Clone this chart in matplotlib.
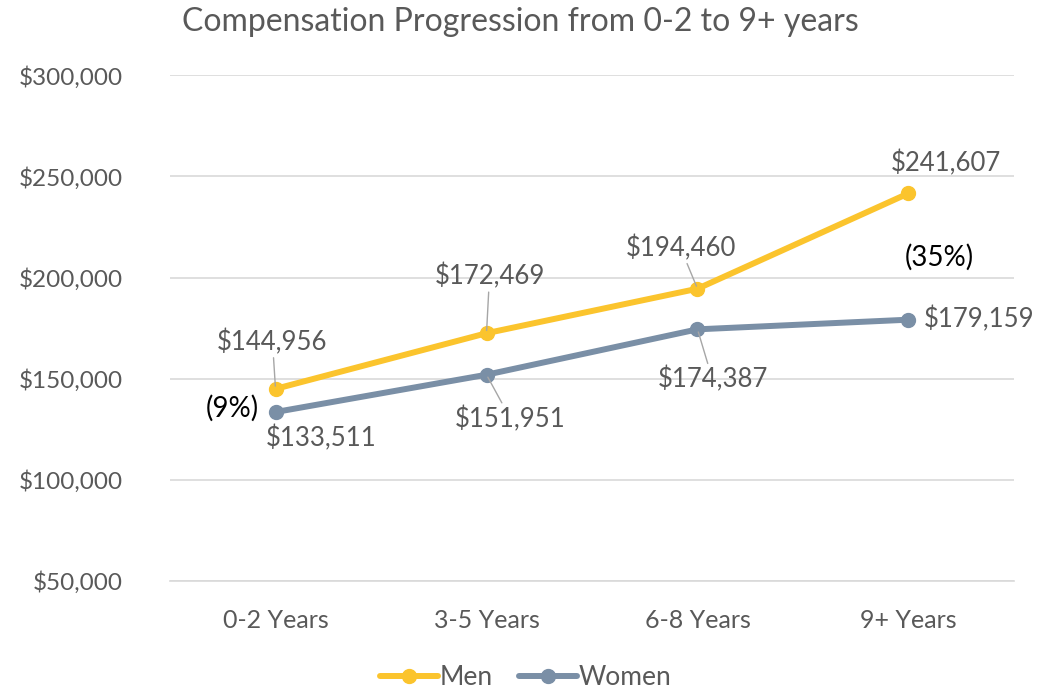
import matplotlib
matplotlib.use('Agg')
import matplotlib.pyplot as plt
from matplotlib.ticker import FuncFormatter

plt.rcParams['font.family'] = ['Lato', 'DejaVu Sans']

categories = ['0-2 Years', '3-5 Years', '6-8 Years', '9+ Years']
men = [144956, 172469, 194460, 241607]
women = [133511, 151951, 174387, 179159]

men_color = '#FBC42D'
women_color = '#7A8FA6'
text_gray = '#595959'

fig = plt.figure(figsize=(10.58, 6.90), dpi=100)
ax = fig.add_axes([0.1607, 0.158, 0.7977, 0.733])

x = range(len(categories))
ax.plot(x, men, color=men_color, lw=4.3, marker='o', ms=10, label='Men', solid_capstyle='round', zorder=3)
ax.plot(x, women, color=women_color, lw=4.3, marker='o', ms=10, label='Women', solid_capstyle='round', zorder=3)

ax.set_xlim(-0.5, 3.5)
ax.set_ylim(50000, 300000)
ax.set_yticks(range(50000, 300001, 50000))
ax.yaxis.set_major_formatter(FuncFormatter(lambda v, p: '${:,.0f}'.format(v)))
ax.set_xticks(list(x))
ax.set_xticklabels(categories)
ax.grid(axis='y', color='#D9D9D9', lw=1.2)
ax.set_axisbelow(True)
for s in ['top', 'right', 'left']:
    ax.spines[s].set_visible(False)
ax.spines['bottom'].set_color('#D9D9D9')
ax.spines['bottom'].set_linewidth(1.2)
ax.tick_params(length=0, labelsize=18, colors=text_gray)
ax.tick_params(axis='x', pad=20)
ax.tick_params(axis='y', labelsize=17.5, pad=34)

# data labels: offsets in pixels, leader line or not
men_off = [(-3, 47), (3, 57), (-17, 41), (37, 30)]
men_lead = [True, True, True, False]
women_off = [(46, -26), (24, -44), (15, -50), (71, 0)]
women_lead = [False, True, True, False]

def label(xi, v, off, lead):
    kw = {}
    if lead:
        kw['arrowprops'] = dict(arrowstyle='-', color='#A6A6A6', lw=1, shrinkA=0, shrinkB=2)
    ax.annotate('${:,.0f}'.format(v), (xi, v), xytext=off, textcoords='offset pixels',
                ha='center', va='center', fontsize=18.5, color=text_gray, zorder=4, **kw)

for i in x:
    label(i, men[i], men_off[i], men_lead[i])
    label(i, women[i], women_off[i], women_lead[i])

# gap labels
ax.annotate('(9%)', (0, women[0]), xytext=(-43, 4), textcoords='offset pixels',
            ha='center', va='center', fontsize=20, color='black')
ax.annotate('(35%)', (3, men[3]), xytext=(31, -64), textcoords='offset pixels',
            ha='center', va='center', fontsize=20, color='black')

fig.text(0.4915, 0.968, 'Compensation Progression from 0-2 to 9+ years', ha='center', va='center',
         fontsize=23, color=text_gray)

leg = fig.legend(loc='center', bbox_to_anchor=(0.497, 0.018), ncol=2, frameon=False,
                 fontsize=19, handlelength=2.2, columnspacing=1.0, handletextpad=0.05)
for t in leg.get_texts():
    t.set_color(text_gray)

fig.savefig('out.png', dpi=100)
